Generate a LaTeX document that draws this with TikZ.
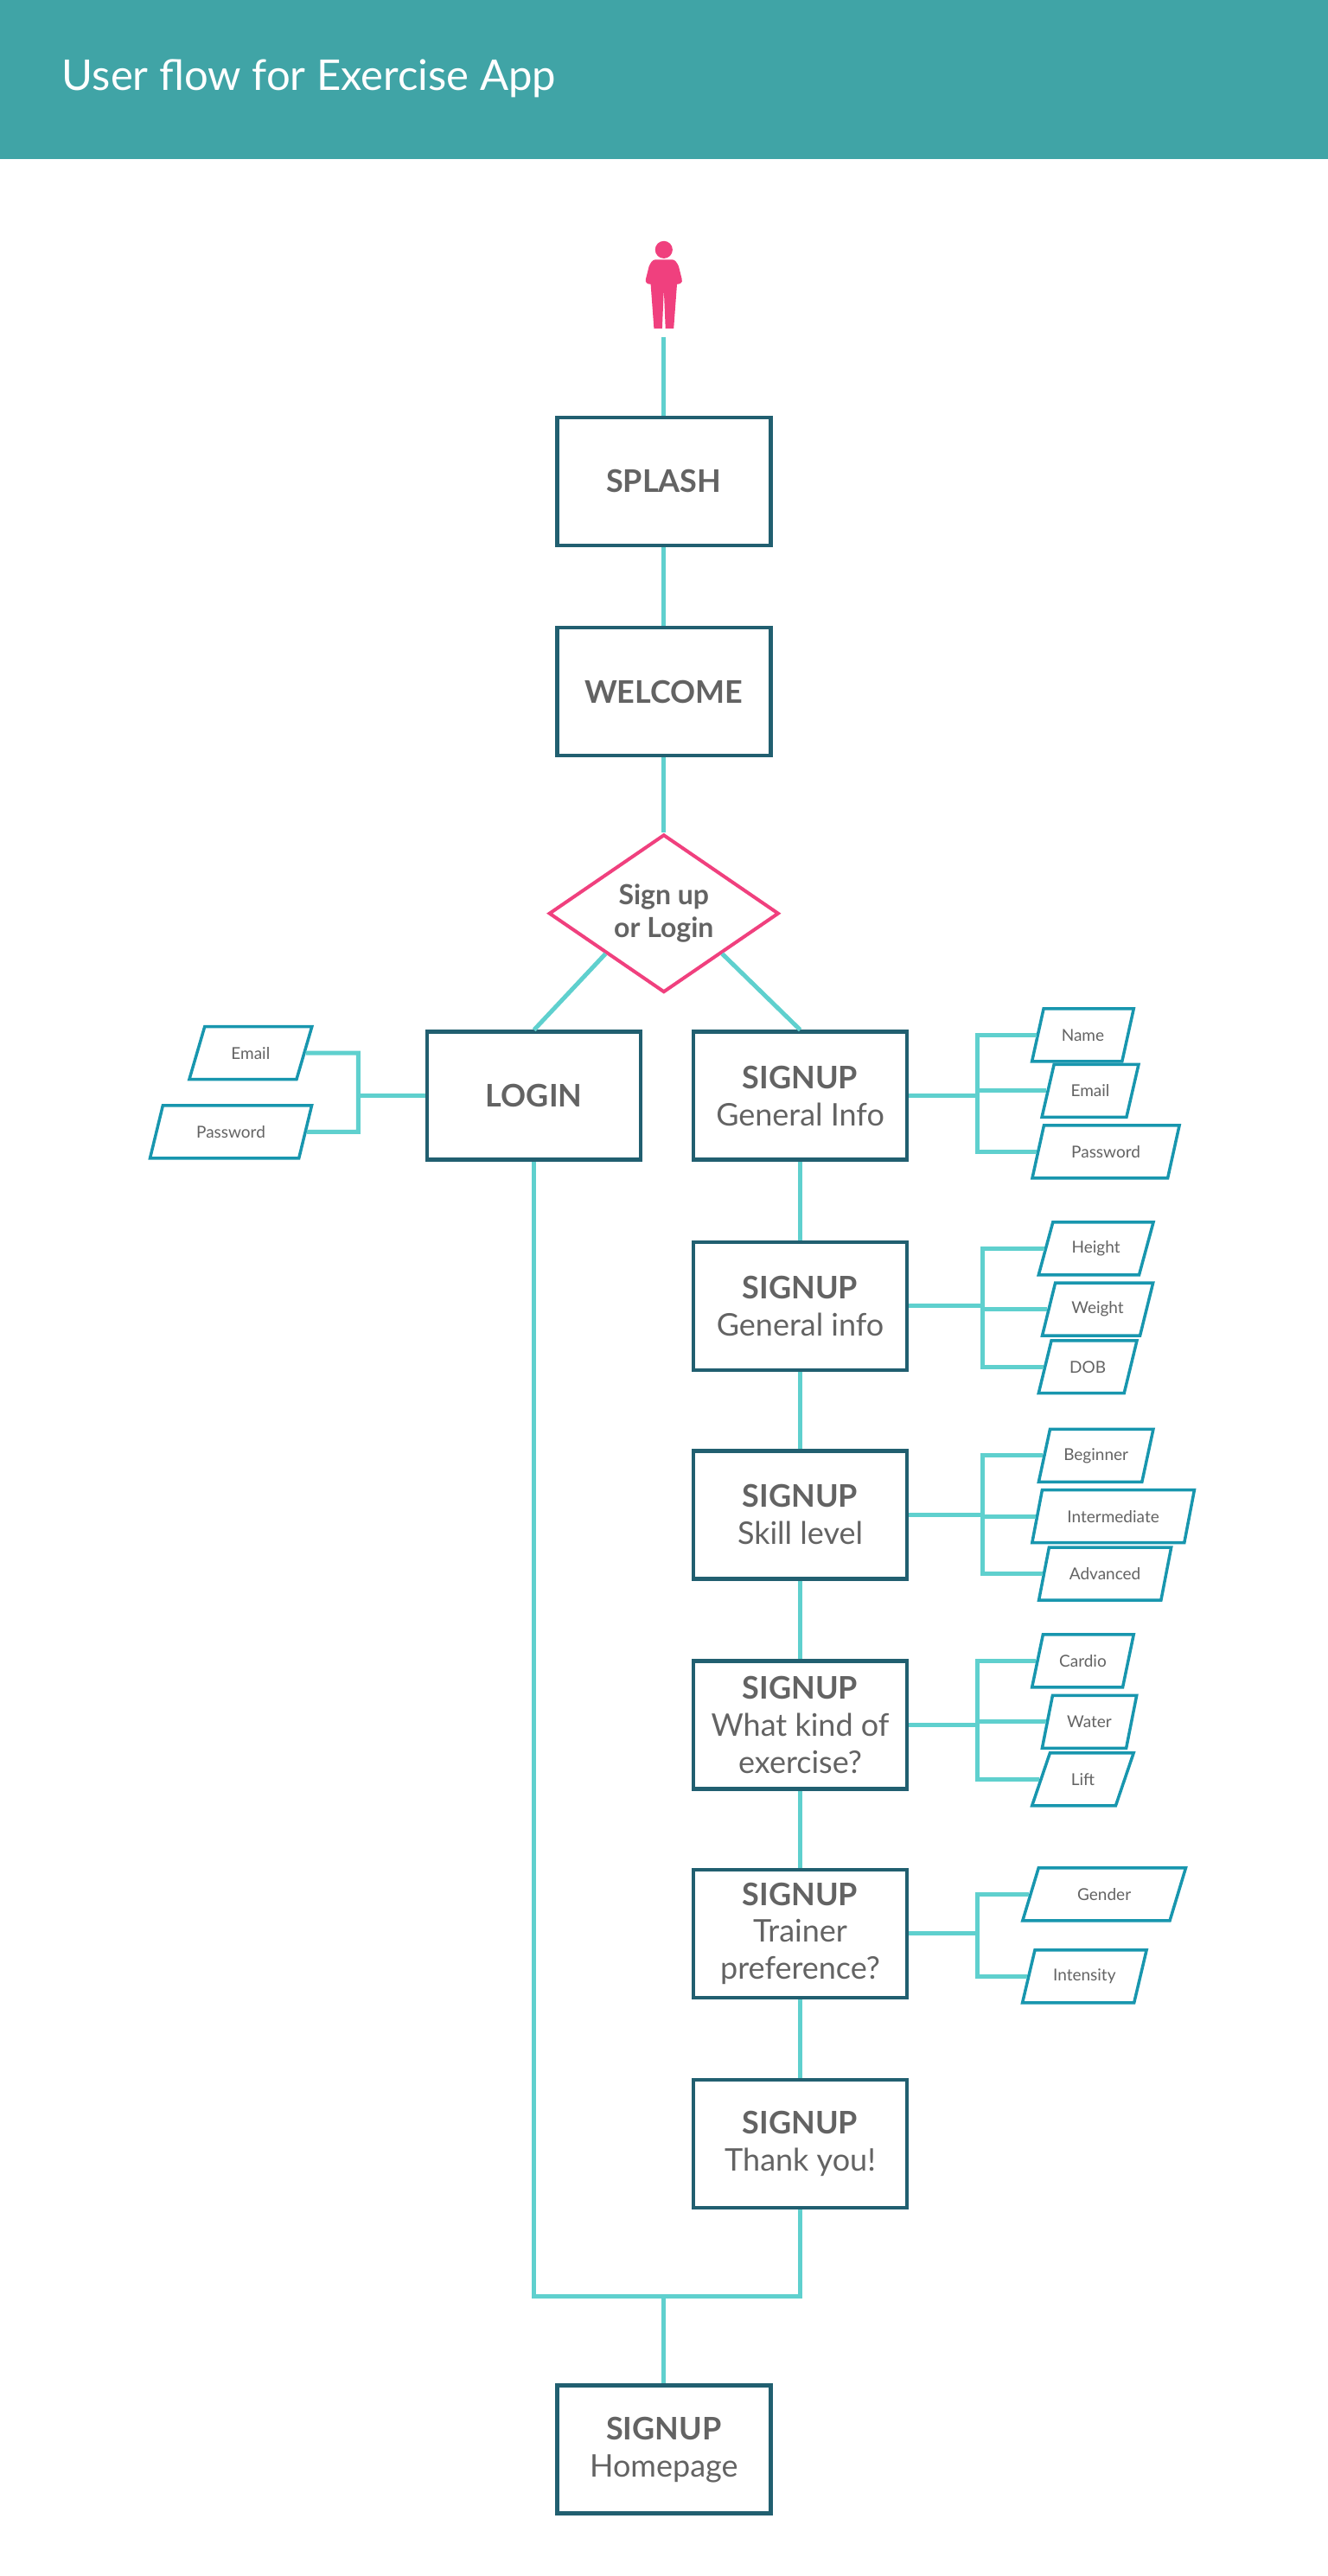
\documentclass[tikz,border=0pt]{standalone}
\usepackage{fontspec}
\setmainfont{Lato}
\usetikzlibrary{shapes.geometric}
\definecolor{hdr}{HTML}{40A4A6}
\definecolor{boxc}{HTML}{215F70}
\definecolor{conn}{HTML}{5FD0CE}
\definecolor{pink}{HTML}{F0407E}
\definecolor{pgc}{HTML}{1896AE}
\definecolor{txt}{HTML}{636363}
\tikzset{
  screen/.style={draw=boxc,line width=4.5pt,fill=white,minimum width=247pt,minimum height=148pt,align=center,text=txt,font=\fontsize{36}{43}\selectfont,inner sep=0pt},
  pg/.style={trapezium,trapezium left angle=62,trapezium right angle=118,trapezium stretches=true,draw=pgc,line width=3.5pt,minimum height=61pt,text=txt,font=\fontsize{19}{22}\selectfont,inner sep=0pt},
  ln/.style={draw=conn,line width=5pt},
}
\begin{document}
\begin{tikzpicture}[x=1.901pt,y=-1.901pt]
\useasboundingbox (0,0) rectangle (808,1568);
\fill[hdr] (0,0) rectangle (808,97);
\node[anchor=west,text=white,font=\fontsize{49}{52}\selectfont] (title) at (36,48) {User flow for Exercise App};
% person
\fill[pink] (404,152) circle (5.3);
\fill[pink] (399,158) -- (409,158) .. controls (411,158) and (412,160) .. (413,162) -- (415,170) .. controls (415.5,172) and (414,173) .. (412,173) -- (410,200) -- (405,200) -- (404,176) -- (403,200) -- (398,200) -- (396,173) .. controls (394,173) and (392.5,172) .. (393,170) -- (395,162) .. controls (396,160) and (397,158) .. (399,158) -- cycle;
\coordinate (p) at (404,205);
% nodes
\node[screen] (splash) at (404,293) {\textbf{SPLASH}};
\node[screen] (welcome) at (404,421) {\textbf{WELCOME}};
\node[diamond,draw=pink,line width=4pt,minimum width=266pt,minimum height=182pt,inner sep=0pt,align=center,text=txt,font=\bfseries\fontsize{32}{38}\selectfont] (dia) at (404,556) {Sign up\\or Login};
\node[screen] (login) at (325,667) {\textbf{LOGIN}};
\node[screen] (s1) at (487,667) {\textbf{SIGNUP}\\General Info};
\node[screen] (s2) at (487,795) {\textbf{SIGNUP}\\General info};
\node[screen] (s3) at (487,922) {\textbf{SIGNUP}\\Skill level};
\node[screen] (s4) at (487,1050) {\textbf{SIGNUP}\\What kind of\\exercise?};
\node[screen] (s5) at (487,1177) {\textbf{SIGNUP}\\Trainer\\preference?};
\node[screen] (s6) at (487,1305) {\textbf{SIGNUP}\\Thank you!};
\node[screen] (home) at (404,1491) {\textbf{SIGNUP}\\Homepage};
% parallelograms
\node[pg,minimum width=142pt] (lE) at (152.5,641) {Email};
\node[pg,minimum width=188pt] (lP) at (140.5,689) {Password};
\node[pg,minimum width=118pt] (a1) at (659,630) {Name};
\node[pg,minimum width=112pt] (a2) at (663.5,664) {Email};
\node[pg,minimum width=171pt] (a3) at (673,701) {Password};
\node[pg,minimum width=133pt] (b1) at (667,760) {Height};
\node[pg,minimum width=129pt] (b2) at (668,797) {Weight};
\node[pg,minimum width=114pt] (b3) at (662,832) {DOB};
\node[pg,minimum width=133pt] (c1) at (667,886) {Beginner};
\node[pg,minimum width=188pt] (c2) at (677.5,923) {Intermediate};
\node[pg,minimum width=154pt] (c3) at (672.5,958) {Advanced};
\node[pg,minimum width=118pt] (d1) at (659,1011) {Cardio};
\node[pg,minimum width=110pt] (d2) at (663,1048) {Water};
\node[pg,minimum width=118pt] (d3) at (659,1083) {Lift};
\node[pg,minimum width=190pt] (e1) at (672,1153) {Gender};
\node[pg,minimum width=144pt] (e2) at (660,1203) {Intensity};
% main flow
\draw[ln] (p) -- (splash);
\draw[ln] (splash) -- (welcome);
\draw[ln] (welcome) -- (dia);
\draw[ln] (dia.south west) -- (login.north);
\draw[ln] (dia.south east) -- (s1.north);
\draw[ln] (s1) -- (s2);
\draw[ln] (s2) -- (s3);
\draw[ln] (s3) -- (s4);
\draw[ln] (s4) -- (s5);
\draw[ln] (s5) -- (s6);
\coordinate (j) at (404,1398);
\draw[ln] (login.south) |- (j);
\draw[ln] (s6.south) |- (j);
\draw[ln] (j) -- (home.north);
% brackets
\draw[ln] (login.west) -- (218,667);
\draw[ln] (lE.east) -| (218,689) -- (lP.east);
\foreach \bx/\t/\m/\b/\X in {s1/a1/a2/a3/595, s2/b1/b2/b3/598, s3/c1/c2/c3/598, s4/d1/d2/d3/595}{
  \draw[ln] (\bx.east) -- (\X,0 |- \bx.east);
  \draw[ln] (\t.west) -| (\X,0 |- \b.west) -- (\b.west);
  \draw[ln] (\X,0 |- \m.west) -- (\m.west);
}
\draw[ln] (s5.east) -- (595,0 |- s5.east);
\draw[ln] (e1.west) -| (595,0 |- e2.west) -- (e2.west);
\end{tikzpicture}
\end{document}
